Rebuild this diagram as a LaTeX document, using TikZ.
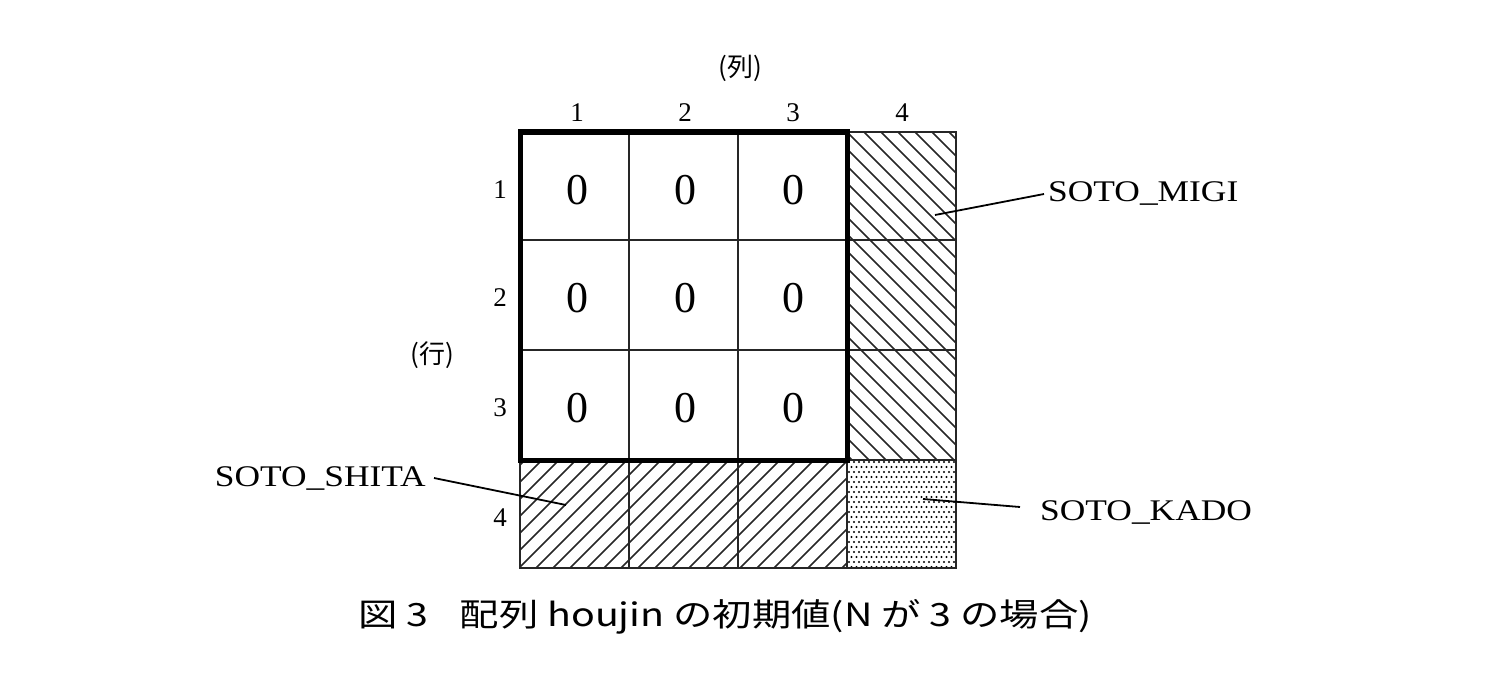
\documentclass[tikz,border=0pt]{standalone}
\usepackage{fontspec}
\usepackage{graphicx}
\setmainfont{Liberation Serif}
\newfontfamily\cjk{Noto Sans CJK JP}
\newfontfamily\cjkserif{Noto Sans CJK JP}
\begin{document}
\begin{tikzpicture}[x=1pt,y=-1pt,
  thin/.style={line width=1.8pt,black!85},
  hatch/.style={line width=1.6pt,black!85},
  lbl/.style={font=\fontsize{30}{30}\selectfont,inner sep=0},
  num/.style={font=\fontsize{27}{27}\selectfont,inner sep=0},
  zero/.style={font=\fontsize{44}{44}\selectfont,inner sep=0}]
\useasboundingbox (0,0) rectangle (1506,682);
% hatching right column
\begin{scope}
\clip (847,132) rectangle (956,460);
\foreach \i in {-8,...,20} \draw[hatch] (847,132+\i*17) -- ++(120,120);
\end{scope}
% hatching bottom row
\begin{scope}
\clip (520,460) rectangle (847,568);
\foreach \i in {0,...,30} \draw[hatch] (520+\i*17-120,568) -- ++(120,-120);
\end{scope}
% dots corner
\begin{scope}
\clip (847,460) rectangle (956,568);
\foreach \i in {0,...,21} \foreach \j in {0,...,21}
  \fill[black] ({849+\i*5+mod(\j,2)*2.5},{462+\j*5}) circle (1.2);
\end{scope}
% grid
\foreach \x in {629,738} \draw[thin] (\x,132) -- (\x,568);
\draw[thin] (847,132) -- (956,132) -- (956,568) -- (520,568) -- (520,460);
\foreach \y in {240,350} \draw[thin] (520,\y) -- (956,\y);
\draw[thin] (847,460) -- (956,460) (847,460) -- (847,568);
\draw[line width=5pt] (520,132) rectangle (847,460);
% zeros
\foreach \c/\x in {1/577,2/685,3/793} \foreach \r/\y in {1/190,2/298,3/408}
  \node[zero] (z\c\r) at (\x,\y) {0};
% indices
\foreach \c/\x in {1/577,2/685,3/793,4/902} \node[num] (c\c) at (\x,113) {\c};
\foreach \r/\y in {1/190,2/298,3/408,4/518} \node[num] (r\r) at (500,\y) {\r};
\node[num,font=\fontsize{26}{26}\cjkserif] (retsu) at (740,68) {(列)};
\node[num,font=\fontsize{26}{26}\cjkserif] (gyou) at (432,355) {(行)};
% labels
\node[lbl,anchor=west] (migi) at (1048,194) {\scalebox{1.18}[1]{SOTO\_MIGI}};
\node[lbl,anchor=east] (shita) at (426,478) {\scalebox{1.18}[1]{SOTO\_SHITA}};
\node[lbl,anchor=west] (kado) at (1040,512) {\scalebox{1.18}[1]{SOTO\_KADO}};
\coordinate (pm) at (935,215);
\coordinate (ps) at (566,505);
\coordinate (pk) at (923,499);
\draw[line width=1.8pt] (migi.west) ++(-4,0) -- (pm);
\draw[line width=1.8pt] (shita.east) ++(8,0) -- (ps);
\draw[line width=1.8pt] (kado.west) ++(-20,-5) -- (pk);
\node[inner sep=0,font=\fontsize{32}{32}\cjk] (cap) at (725,617) {\scalebox{1.23}[1]{図 3\hspace{0.8em}配列 houjin の初期値(N が 3 の場合)}};
\end{tikzpicture}
\end{document}
